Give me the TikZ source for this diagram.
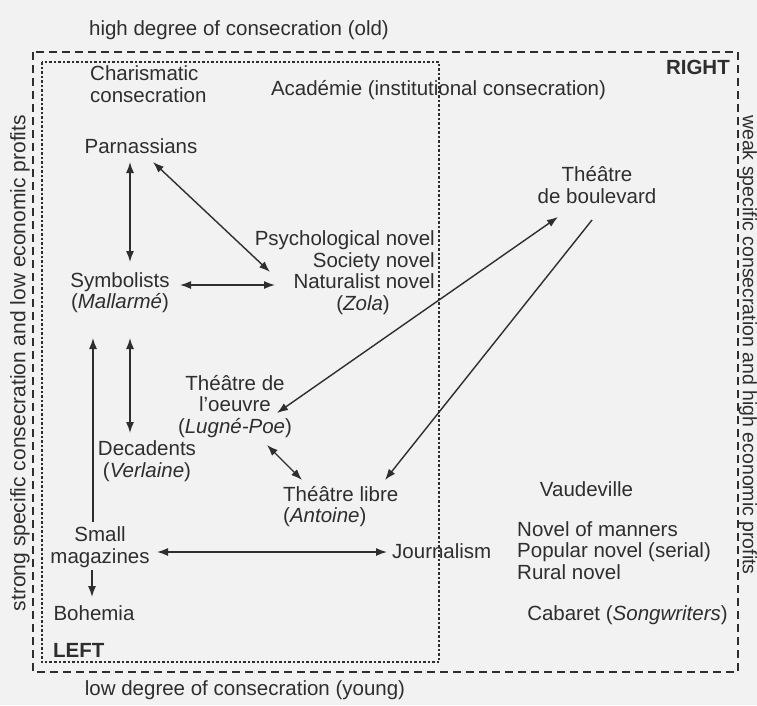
\documentclass[tikz,border=0pt]{standalone}
\usepackage{fontspec}
\setmainfont{Liberation Sans}
\usetikzlibrary{arrows.meta,calc}
\definecolor{ink}{HTML}{2E2E2E}
\definecolor{paper}{HTML}{F2F2F2}
\tikzset{
  lbl/.style={text=ink, font=\fontsize{20.5}{21.5}\selectfont, inner sep=0pt},
  tip/.tip={Latex[length=11pt,width=8pt]},
  dbl/.style={draw=ink, line width=1.4pt, tip-tip},
  sgl/.style={draw=ink, line width=1.4pt, -tip},
  outerbox/.style={draw=ink, line width=1.5pt, dash pattern=on 8pt off 5pt},
  innerbox/.style={draw=ink, line width=1.1pt, dash pattern=on 2.5pt off 2pt},
}
\begin{document}
\begin{tikzpicture}[x=1pt,y=-1pt]
\fill[paper] (0,0) rectangle (757,705);
\useasboundingbox (0,0) rectangle (757,705);

% frames
\draw[outerbox] (33,52) rectangle (738,672);
\draw[innerbox] (42,62) rectangle (439,662);

% axis labels
\node[lbl] (hi) at (239,30) {high degree of consecration (old)};
\node[lbl] (lo) at (245,690) {low degree of consecration (young)};
\node[lbl, font=\fontsize{21}{22}\selectfont, rotate=90] (leftlab) at (20,363) {strong specific consecration and low economic profits};
\node[lbl, font=\fontsize{19.5}{21}\selectfont, rotate=-90] (rightlab) at (748,345) {weak specific consecration and high economic profits};
\node[lbl, font=\fontsize{20.5}{21.5}\selectfont\bfseries, anchor=east] (right) at (730,67) {RIGHT};
\node[lbl, font=\fontsize{20.5}{21.5}\selectfont\bfseries, anchor=west] (left) at (53,650) {LEFT};

% nodes
\node[lbl, align=left, anchor=west] (charis) at (90,84) {Charismatic\\consecration};
\node[lbl] (acad) at (438.5,90) {Académie (institutional consecration)};
\node[lbl] (parn) at (141,146) {Parnassians};
\node[lbl, align=center] (boul) at (597,185) {Théâtre\\de boulevard};
\node[lbl, align=right, anchor=east] (novels) at (435,272.5) {Psychological novel\\Society novel\\Naturalist novel\\(\textit{Zola})\hspace*{45pt}};
\node[lbl, align=center] (symb) at (120,292.5) {Symbolists\\(\textit{Mallarmé})};
\node[lbl, align=center] (oeuvre) at (235,406.5) {Théâtre de\\l’oeuvre\\(\textit{Lugné-Poe})};
\node[lbl, align=center] (dec) at (147,461) {Decadents\\(\textit{Verlaine})};
\node[lbl, align=left, anchor=west] (libre) at (283,506.5) {Théâtre libre\\(\textit{Antoine})};
\node[lbl, align=center] (small) at (100,547) {Small\\magazines};
\node[lbl, anchor=west] (journ) at (392,551) {Journalism};
\node[lbl] (boh) at (94,613) {Bohemia};
\node[lbl] (vaud) at (586.5,489) {Vaudeville};
\node[lbl, align=left, anchor=west] (manners) at (517,550.5) {Novel of manners\\Popular novel (serial)\\Rural novel};
\node[lbl] (cab) at (627.5,615) {Cabaret (\textit{Songwriters})};

% connectors
\draw[dbl] ($(parn.center)+(-11,16)$) -- ($(symb.center)+(10,-30.5)$);
\draw[dbl] ($(parn.center)+(12,16)$) -- ($(novels.east)+(-165,-0.5)$);
\draw[dbl] ($(symb.center)+(60,-7.5)$) -- ($(novels.east)+(-160,12.5)$);
\draw[dbl] ($(boul.center)+(-39,32)$) -- ($(oeuvre.center)+(42,6.5)$);
\draw[sgl] ($(boul.center)+(-5,35)$) -- ($(libre.west)+(102,-26.5)$);
\draw[dbl] ($(oeuvre.center)+(32,38.5)$) -- ($(libre.west)+(19,-26.5)$);
\draw[dbl] ($(symb.center)+(10,45.5)$) -- ($(dec.center)+(-17,-28)$);
\draw[sgl] ($(small.center)+(-7,-25)$) -- ($(symb.center)+(-27,45.5)$);
\draw[dbl] ($(small.center)+(57,5)$) -- ($(journ.west)+(-5,1)$);
\draw[sgl] ($(small.center)+(-8,23)$) -- ($(boh.center)+(-2,-16)$);
\end{tikzpicture}
\end{document}
